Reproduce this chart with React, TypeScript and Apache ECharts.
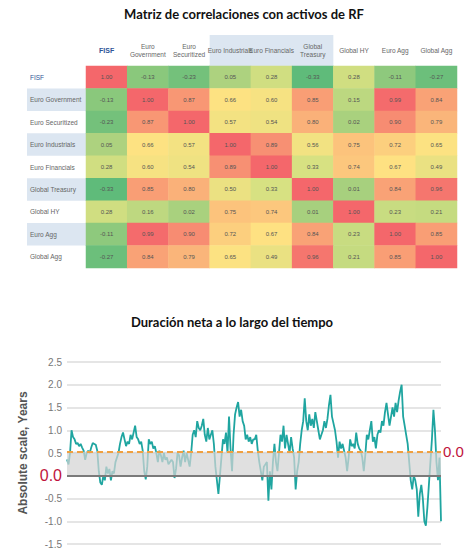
import React, { useEffect, useRef } from "react";
import * as echarts from "echarts";

// ---------- Correlation matrix data ----------
const assets = [
  "FISF",
  "Euro Government",
  "Euro Securitized",
  "Euro Industrials",
  "Euro Financials",
  "Global Treasury",
  "Global HY",
  "Euro Agg",
  "Global Agg",
];
const headerLabels = [
  "FISF",
  "Euro\nGovernment",
  "Euro\nSecuritized",
  "Euro Industrials",
  "Euro Financials",
  "Global\nTreasury",
  "Global HY",
  "Euro Agg",
  "Global Agg",
];
const rowFISF = [1.0, -0.13, -0.23, 0.05, 0.28, -0.33, 0.28, -0.11, -0.27];
const rowEuroGov = [-0.13, 1.0, 0.87, 0.66, 0.6, 0.85, 0.15, 0.99, 0.84];
const rowEuroSec = [-0.23, 0.87, 1.0, 0.57, 0.54, 0.8, 0.02, 0.9, 0.79];
const rowEuroInd = [0.05, 0.66, 0.57, 1.0, 0.89, 0.56, 0.75, 0.72, 0.65];
const rowEuroFin = [0.28, 0.6, 0.54, 0.89, 1.0, 0.33, 0.74, 0.67, 0.49];
const rowGlobalTre = [-0.33, 0.85, 0.8, 0.5, 0.33, 1.0, 0.01, 0.84, 0.96];
const rowGlobalHY = [0.28, 0.16, 0.02, 0.75, 0.74, 0.01, 1.0, 0.23, 0.21];
const rowEuroAgg = [-0.11, 0.99, 0.9, 0.72, 0.67, 0.84, 0.23, 1.0, 0.85];
const rowGlobalAgg = [-0.27, 0.84, 0.79, 0.65, 0.49, 0.96, 0.21, 0.85, 1.0];
const corrRows = [
  rowFISF,
  rowEuroGov,
  rowEuroSec,
  rowEuroInd,
  rowEuroFin,
  rowGlobalTre,
  rowGlobalHY,
  rowEuroAgg,
  rowGlobalAgg,
];
const heatColors = ["#5fbb7a", "#a6d07e", "#d8e182", "#fee282", "#f4676b"];

// ---------- Net duration data (first and second half of the period) ----------
const durationFirstHalf = [
  0.36, 0.25, 0.5, 1.0, 0.85, 0.8, 0.7, 0.72, 0.65, 0.7, 0.62, 0.55, 0.35, 0.5, 0.55, 0.5,
  0.62, 0.72, 0.7, 0.68, 0.55, 0.1, -0.15, -0.2,
  0.0, -0.1, 0.2, 0.05, 0.15, -0.1, 0.1, 0.05, 0.3, 0.4, 0.5, 0.7, 0.85, 0.95, 0.8, 0.65,
  0.75, 0.7, 0.9, 0.8, 0.95, 1.1,
  0.85, 0.8, 0.7, 0.75, 0.55, 0.1, -0.08, 0.2, 0.8, 0.7, 0.75, 0.6, 0.65, 0.5, 0.3, 0.55,
  0.45, 0.3, 0.5, 0.35, 0.4, 0.25, 0.3, 0.35, 0.3, -0.05,
  0.15, 0.5, 0.45, 0.2, 0.4, 0.55, 0.3, 0.5, 0.35, 0.2, 0.5, 0.9, 1.0, 0.85, 1.2, 1.05,
  1.0, 1.1, 1.25, 0.9, 0.75, 1.05, 0.8, 0.9, 1.0, 0.7, 0.2, -0.1, -0.4,
  0.0, 0.4, 0.8, 0.7, 0.95, 0.5, 1.3, 0.6, 0.1, 0.9, 1.35, 1.5, 1.62,
  1.3, 1.45, 1.2, 1.1, 0.8, 0.9, 0.75, 0.85, 0.7, 0.8,
];
const durationSecondHalf = [
  0.8, 0.9, 0.55, 0.3, 0.1, -0.1, 0.2, 0.25, 0.3, -0.55, 0.1, -0.3, 0.3, 0.7, 0.3, 0.1,
  0.5, 0.9, 0.75, 1.1, 0.6, 0.9, 0.7, 0.5, 0.85, 0.6, 0.4, -0.3, 0.1, 0.3, 0.7, 1.0,
  1.2, 1.7,
  1.2, 1.0, 1.35, 1.1, 1.25, 1.05, 1.4, 1.2, 1.0, 0.8, 0.9, 1.0, 1.2, 1.05, 1.25, 1.55,
  1.78,
  1.3, 1.15, 1.0, 0.75, 0.4, 0.75, 0.6, 0.7, 0.55, 0.4, 0.1, 0.4, 0.8, 0.65, 0.7, 0.6,
  0.95, 0.7, 0.6, 0.55, 0.4, 0.1, 0.45, 0.9, 0.8, 1.0, 1.2, 0.75, 0.85, 0.6, 0.9, 1.0,
  0.95, 1.2, 1.1, 1.4, 1.6, 1.35, 1.1, 1.3, 1.5, 1.3, 1.6, 1.4, 1.65, 1.85, 2.0,
  1.3, 1.1, 0.9, 0.7, 0.3, -0.1, -0.3, 0.0, -0.1, -0.3, -0.9, -0.4, -0.2, -0.5, -1.0, -1.1,
  -0.7, -0.2, 0.3, 0.8, 1.45, 1.0, 0.3, -0.1, 0.4, -1.0,
];
const durationNet = [...durationFirstHalf, ...durationSecondHalf];
const neutralBand = [0, 0.53];
const yMin = -1.5;
const yMax = 2.5;
const yStep = 0.5;

const MATRIX_FONT = "'Liberation Sans', Arial, sans-serif";
const TICK_FONT = "'Liberation Sans', Arial, sans-serif";
const TITLE_FONT = "Lato, 'Open Sans', sans-serif";
const HILITE = "#dce6f1";

export default function App() {
  const ref = useRef<HTMLDivElement>(null);

  useEffect(() => {
    if (!ref.current) return;
    const chart = echarts.init(ref.current, null, { renderer: "svg" });

    const heatData: number[][] = [];
    corrRows.forEach((row, yi) => {
      row.forEach((v, xi) => heatData.push([xi, yi, v]));
    });

    const option: any = {
      animation: false,
      backgroundColor: "#ffffff",
      graphic: [
        {
          type: "text",
          x: 244,
          y: 14,
          style: {
            text: "Matriz de correlaciones con activos de RF",
            textAlign: "center",
            textVerticalAlign: "middle",
            fontFamily: TITLE_FONT,
            fontWeight: "bold",
            fontSize: 13,
            fill: "#111",
          },
        },
        {
          type: "text",
          x: 232,
          y: 322,
          style: {
            text: "Duración neta a lo largo del tiempo",
            textAlign: "center",
            textVerticalAlign: "middle",
            fontFamily: TITLE_FONT,
            fontWeight: "bold",
            fontSize: 13,
            fill: "#111",
          },
        },
      ],
      grid: [
        { left: 86, top: 66, width: 371, height: 202 },
        { left: 86, top: 35, width: 371, height: 31 },
        { left: 27, top: 66, width: 59, height: 202 },
        { left: 67, right: 33, top: 362, bottom: 16 },
      ],
      xAxis: [
        {
          gridIndex: 0,
          type: "category",
          data: headerLabels,
          position: "top",
          axisLine: { show: false },
          axisTick: { show: false },
          splitLine: { show: false },
          axisLabel: {
            interval: 0,
            margin: 15.5,
            verticalAlign: "middle",
            fontSize: 6.5,
            lineHeight: 8.5,
            color: "#666",
            fontFamily: MATRIX_FONT,
            formatter: (v: string) => (v === "FISF" ? "{f|FISF}" : v),
            rich: {
              f: { color: "#2f5597", fontWeight: "bold", fontSize: 7, fontFamily: MATRIX_FONT },
            },
          },
        },
        {
          gridIndex: 1,
          type: "category",
          data: headerLabels,
          axisLine: { show: false },
          axisTick: { show: false },
          axisLabel: { show: false },
          splitLine: { show: false },
          splitArea: { show: true, areaStyle: { color: ["rgba(255,255,255,0)", HILITE] } },
        },
        { gridIndex: 2, type: "value", show: false },
        {
          gridIndex: 3,
          type: "category",
          data: durationNet.map((_, i) => i),
          boundaryGap: false,
          axisLine: { show: false },
          axisTick: { show: false },
          axisLabel: { show: false },
          splitLine: { show: false },
        },
      ],
      yAxis: [
        {
          gridIndex: 0,
          type: "category",
          data: assets,
          inverse: true,
          axisLine: { show: false },
          axisTick: { show: false },
          splitLine: { show: false },
          axisLabel: {
            interval: 0,
            align: "left",
            margin: 56,
            fontSize: 6.5,
            color: "#666",
            fontFamily: MATRIX_FONT,
            formatter: (v: string) => (v === "FISF" ? "{f|FISF}" : v),
            rich: {
              f: { color: "#2f5597", fontSize: 6.5, fontFamily: MATRIX_FONT },
            },
          },
        },
        { gridIndex: 1, type: "value", show: false },
        {
          gridIndex: 2,
          type: "category",
          data: assets,
          inverse: true,
          axisLine: { show: false },
          axisTick: { show: false },
          axisLabel: { show: false },
          splitLine: { show: false },
          splitArea: { show: true, areaStyle: { color: ["rgba(255,255,255,0)", HILITE] } },
        },
        {
          gridIndex: 3,
          type: "value",
          min: yMin,
          max: yMax,
          interval: yStep,
          name: "Absolute scale, Years",
          nameLocation: "middle",
          nameGap: 22,
          nameTextStyle: {
            fontFamily: MATRIX_FONT,
            fontWeight: "bold",
            fontSize: 12,
            color: "#555",
          },
          axisLine: { show: false },
          axisTick: { show: false },
          splitLine: { lineStyle: { color: "#dcdcdc", width: 1.5 } },
          axisLabel: {
            margin: 5,
            fontSize: 10,
            color: "#777",
            fontFamily: TICK_FONT,
            formatter: (v: number) => (Math.abs(v) < 1e-9 ? "{r|0.0}" : v.toFixed(1)),
            rich: {
              r: { color: "#c0143c", fontSize: 16, fontFamily: TICK_FONT },
            },
          },
        },
      ],
      visualMap: {
        type: "continuous",
        show: false,
        min: -0.33,
        max: 1,
        dimension: 2,
        seriesIndex: 0,
        inRange: { color: heatColors },
      },
      series: [
        {
          type: "heatmap",
          xAxisIndex: 0,
          yAxisIndex: 0,
          data: heatData,
          label: {
            show: true,
            fontSize: 6,
            color: "#555",
            fontFamily: MATRIX_FONT,
            formatter: (p: any) => Number(p.value[2]).toFixed(2),
          },
          itemStyle: { borderWidth: 0 },
        },
        {
          type: "line",
          xAxisIndex: 3,
          yAxisIndex: 3,
          data: durationNet,
          symbol: "none",
          lineStyle: { color: "#1fa5a0", width: 1.8 },
          z: 2,
          markArea: {
            silent: true,
            z: 3,
            itemStyle: { color: "rgba(212,212,212,0.72)" },
            data: [[{ yAxis: neutralBand[0] }, { yAxis: neutralBand[1] }]],
          },
          markLine: {
            silent: true,
            z: 5,
            symbol: "none",
            data: [
              {
                yAxis: neutralBand[1],
                lineStyle: { color: "#f0a040", type: [6, 4], width: 2 },
                label: {
                  show: true,
                  position: "end",
                  distance: 2,
                  formatter: "0.0",
                  color: "#c0143c",
                  fontSize: 15,
                  fontFamily: TICK_FONT,
                },
              },
              {
                yAxis: 0,
                lineStyle: { color: "#7a7a7a", type: "solid", width: 2 },
                label: { show: false },
              },
            ],
          },
        },
      ],
    };

    chart.setOption(option);
    return () => chart.dispose();
  }, []);

  return (
    <div
      ref={ref}
      style={{ position: "fixed", left: 0, top: 0, width: 474, height: 560, background: "#fff" }}
    />
  );
}
